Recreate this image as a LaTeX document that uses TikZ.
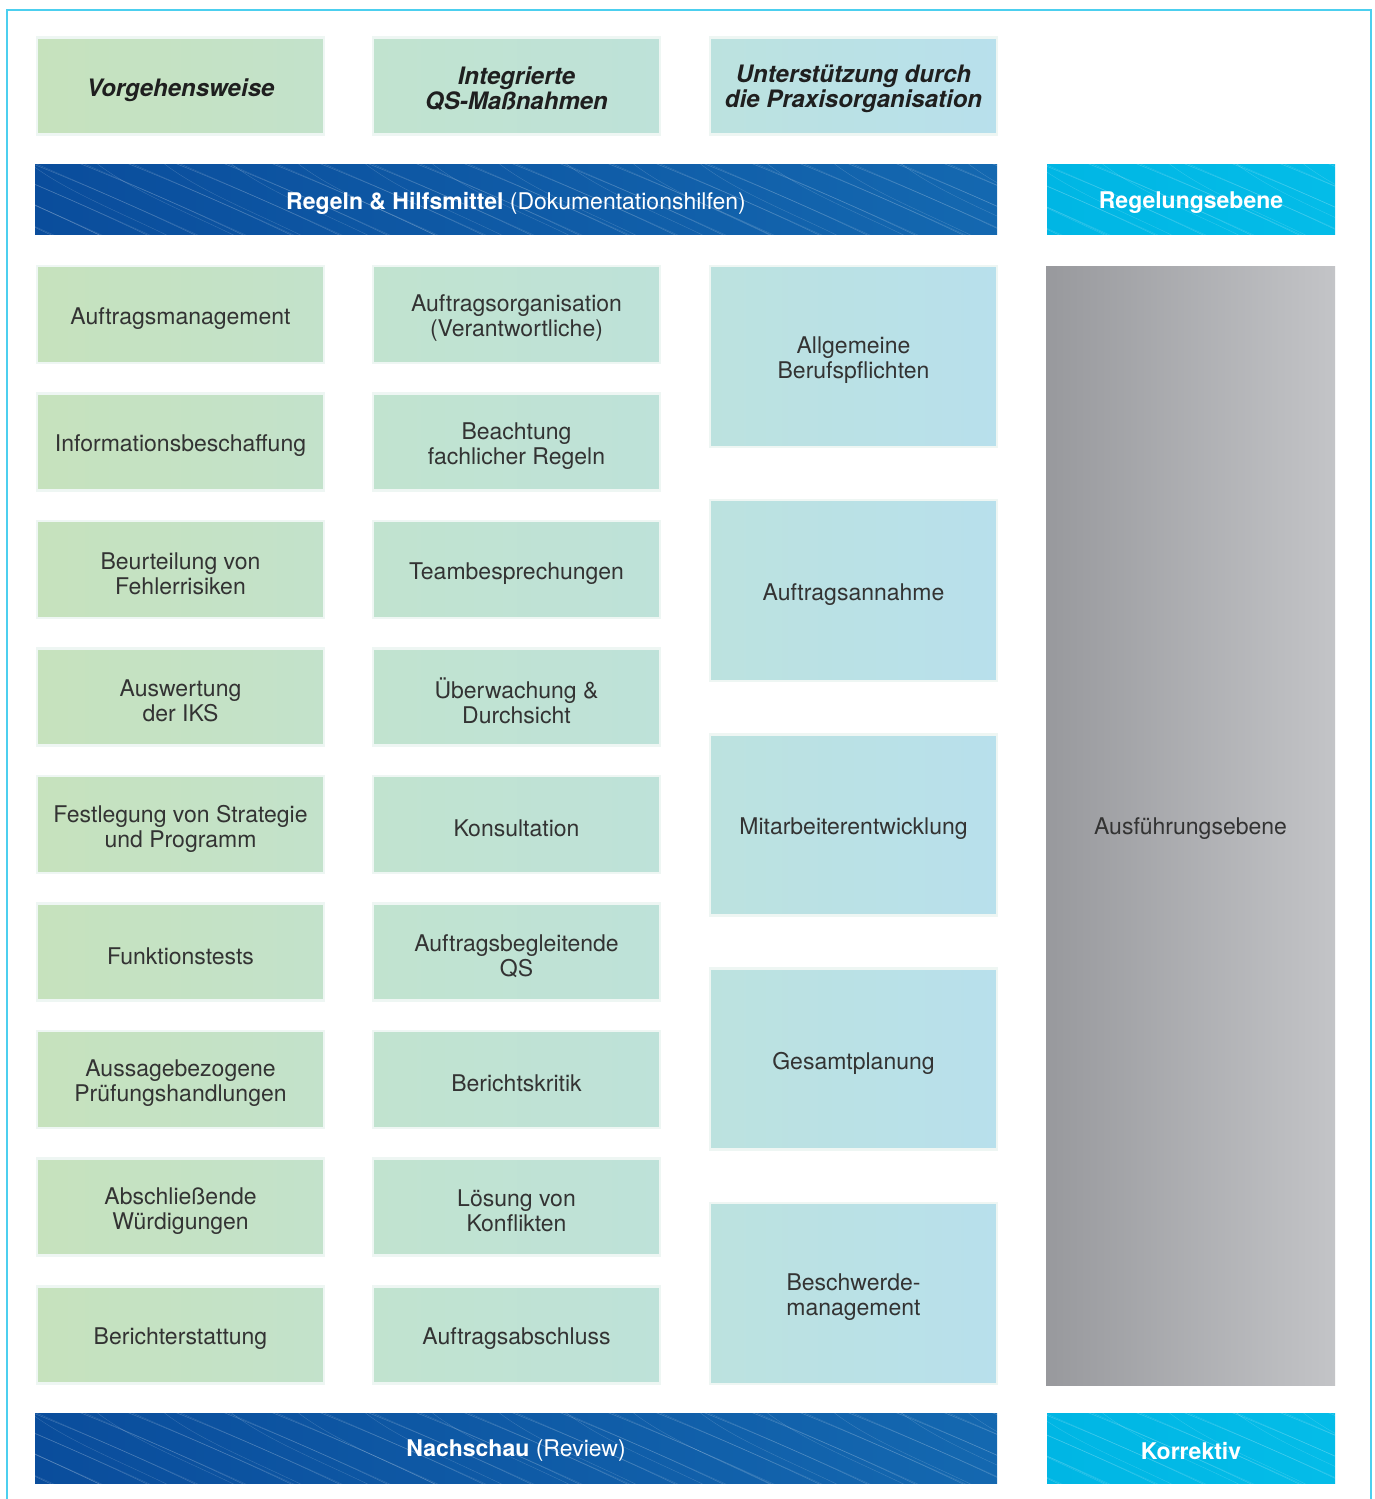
\documentclass[tikz,border=0pt]{standalone}
\usepackage{fontspec}
\setmainfont{TeX Gyre Heros}
\definecolor{frame}{HTML}{4CCFEF}
\definecolor{boxedge}{HTML}{EEF6F3}
\definecolor{txt}{HTML}{333333}
\definecolor{gAl}{HTML}{C6E2BD}
\definecolor{gAr}{HTML}{C3E2CB}
\definecolor{gBl}{HTML}{C1E3CF}
\definecolor{gBr}{HTML}{BEE2D9}
\definecolor{gCl}{HTML}{BCE2DF}
\definecolor{gCr}{HTML}{B8E0EC}
\definecolor{blueL}{HTML}{0A4D9C}
\definecolor{blueR}{HTML}{1468B0}
\definecolor{cyanL}{HTML}{00B6E4}
\definecolor{cyanR}{HTML}{04BCE8}
\definecolor{greyL}{HTML}{98999D}
\definecolor{greyR}{HTML}{C3C4C7}
% box + text (text moved slightly down, as in the reference)
\newcommand\cellnode[4]{%
  \node[#1] (#2) at #3 {};
  \node[celltext] (#2t) at ([yshift=-4pt]#2.center) {#4};}
% hatch lines inside a rectangle x1,y1,x2,y2
\newcommand\hatchbox[4]{%
  \begin{scope}
    \clip (#1,#2) rectangle (#3,#4);
    \foreach \i in {-260,-212,...,#3} {
      \draw[white, opacity=0.22, line width=0.45pt] (\i,#2-2) .. controls (\i+60,#2+22) and (\i+120,#2+48) .. (\i+190,#2+82);
      \draw[white, opacity=0.15, line width=0.4pt] (\i+4,#2-2) .. controls (\i+64,#2+24) and (\i+124,#2+50) .. (\i+194,#2+82);
    }
    \foreach \i in {-240,-173,...,#3} {
      \draw[white, opacity=0.18, line width=0.4pt] (\i,#2-2) .. controls (\i+40,#2+30) and (\i+110,#2+55) .. (\i+160,#2+82);
    }
  \end{scope}}
\begin{document}
\begin{tikzpicture}[x=1pt,y=-1pt,
  cell/.style={rectangle, minimum width=287pt, minimum height=97pt, inner sep=0pt,
    draw=boxedge, line width=2.5pt},
  celltext/.style={align=center, text=txt, inner sep=0pt, font=\fontsize{23}{25}\selectfont},
  c1/.style={cell, left color=gAl, right color=gAr},
  c2/.style={cell, left color=gBl, right color=gBr},
  c3/.style={cell, left color=gCl, right color=gCr},
  tall/.style={minimum height=181pt},
  head/.style={align=center, inner sep=0pt, font=\fontsize{24}{25}\selectfont\bfseries\itshape, text=black!88},
  bluebar/.style={rectangle, minimum width=962pt, minimum height=70pt, inner sep=0pt,
    left color=blueL, right color=blueR},
  cyanbar/.style={rectangle, minimum width=288pt, minimum height=70pt, inner sep=0pt,
    left color=cyanL, right color=cyanR},
  bartext/.style={text=white, inner sep=0pt, font=\fontsize{23}{25}\selectfont}
]
\useasboundingbox (0,0) rectangle (1375,1499);
\fill[white] (0,0) rectangle (1375,1499);
\draw[frame, line width=2pt] (7,1500) -- (7,10) -- (1371,10) -- (1371,1500);

% headers
\node[c1] (h1) at (180.5,86) {};
\node[head] (h1t) at ([yshift=-4pt]h1.center) {Vorgehensweise};
\node[c2] (h2) at (516.5,86) {};
\node[head] (h2t) at ([yshift=-3pt]h2.center) {Integrierte\\QS-Maßnahmen};
\node[c3] (h3) at (853.5,86) {};
\node[head] (h3t) at ([yshift=-3pt]h3.center) {Unterstützung durch\\die Praxisorganisation};

% bars
\node[bluebar] (regeln) at (516,199) {};
\hatchbox{35}{164}{997}{234}
\node[bartext] (regelnt) at ([yshift=-4pt]regeln.center) {\textbf{Regeln \& Hilfsmittel} (Dokumentationshilfen)};
\node[cyanbar] (regelung) at (1191,199) {};
\hatchbox{1047}{164}{1335}{234}
\node[bartext, font=\fontsize{23}{25}\selectfont\bfseries] (regelungt) at ([yshift=-4pt]regelung.center) {Regelungsebene};
\node[bluebar] (nachschau) at (516,1448) {};
\hatchbox{35}{1413}{997}{1483}
\node[bartext] (nachschaut) at ([yshift=-3pt]nachschau.center) {\textbf{Nachschau} (Review)};
\node[cyanbar] (korrektiv) at (1191,1448) {};
\hatchbox{1047}{1413}{1335}{1483}
\node[bartext, font=\fontsize{23}{25}\selectfont\bfseries] (korrektivt) at ([yshift=-3pt]korrektiv.center) {Korrektiv};

% grey column
\node[rectangle, minimum width=289pt, minimum height=1119pt, inner sep=0pt,
  left color=greyL, right color=greyR] (ausf) at (1190.5,825.5) {};
\node[celltext] (ausft) at ([yshift=-3pt]ausf.center) {Ausführungsebene};

% column 1
\cellnode{c1}{a1}{(180.5,314.5)}{Auftragsmanagement}
\cellnode{c1}{a2}{(180.5,442)}{Informationsbeschaffung}
\cellnode{c1}{a3}{(180.5,569.5)}{Beurteilung von\\Fehlerrisiken}
\cellnode{c1}{a4}{(180.5,697)}{Auswertung\\der IKS}
\cellnode{c1}{a5}{(180.5,824.5)}{Festlegung von Strategie\\und Programm}
\cellnode{c1}{a6}{(180.5,952)}{Funktionstests}
\cellnode{c1}{a7}{(180.5,1079.5)}{Aussagebezogene\\Prüfungshandlungen}
\cellnode{c1}{a8}{(180.5,1207)}{Abschließende\\Würdigungen}
\cellnode{c1}{a9}{(180.5,1335)}{Berichterstattung}

% column 2
\cellnode{c2}{b1}{(516.5,314.5)}{Auftragsorganisation\\(Verantwortliche)}
\cellnode{c2}{b2}{(516.5,442)}{Beachtung\\fachlicher Regeln}
\cellnode{c2}{b3}{(516.5,569.5)}{Teambesprechungen}
\cellnode{c2}{b4}{(516.5,697)}{Überwachung \&\\Durchsicht}
\cellnode{c2}{b5}{(516.5,824.5)}{Konsultation}
\cellnode{c2}{b6}{(516.5,952)}{Auftragsbegleitende\\QS}
\cellnode{c2}{b7}{(516.5,1079.5)}{Berichtskritik}
\cellnode{c2}{b8}{(516.5,1207)}{Lösung von\\Konflikten}
\cellnode{c2}{b9}{(516.5,1335)}{Auftragsabschluss}

% column 3
\cellnode{c3,tall}{d1}{(853.5,356.5)}{Allgemeine\\Berufspflichten}
\cellnode{c3,tall}{d2}{(853.5,590.5)}{Auftragsannahme}
\cellnode{c3,tall}{d3}{(853.5,825)}{Mitarbeiterentwicklung}
\cellnode{c3,tall}{d4}{(853.5,1059)}{Gesamtplanung}
\cellnode{c3,tall}{d5}{(853.5,1293.5)}{Beschwerde-\\management}
\end{tikzpicture}
\end{document}
